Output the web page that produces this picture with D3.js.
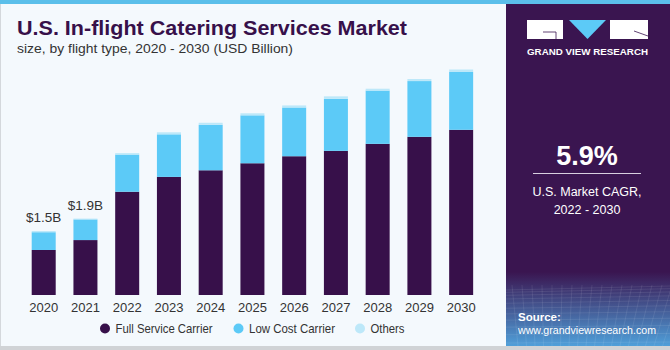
<!DOCTYPE html>
<html>
<head>
<meta charset="utf-8">
<script src="https://cdn.jsdelivr.net/npm/d3@7"></script>
<style>
  body { margin: 0; background: #fff; }
  svg { display: block; font-family: "Liberation Sans", Arial, sans-serif; }
</style>
</head>
<body>
<div id="chart"></div>
<script>
// data (USD Billion)
var years = ["2020", "2021", "2022", "2023", "2024", "2025", "2026", "2027", "2028", "2029", "2030"];
var fullService = [1.09, 1.33, 2.50, 2.86, 3.02, 3.19, 3.36, 3.49, 3.66, 3.83, 4.00];
var lowCost = [0.43, 0.50, 0.90, 1.03, 1.10, 1.16, 1.18, 1.26, 1.29, 1.35, 1.40];
var others = [0.03, 0.02, 0.035, 0.05, 0.05, 0.05, 0.05, 0.06, 0.045, 0.05, 0.06];
var seriesNames = ["Full Service Carrier", "Low Cost Carrier", "Others"];
var valueLabels = ["$1.5B", "$1.9B"];

var width = 670;
var height = 350;

var colors = ["#37104a", "#5ccaf7", "#bde8f9"];

var svg = d3.select("#chart")
    .append("svg")
    .attr("width", width)
    .attr("height", height);

// backgrounds
svg.append("rect").attr("x", 0).attr("y", 0).attr("width", width).attr("height", height).attr("fill", "#f4f9fd");
svg.append("rect").attr("x", 0).attr("y", 0).attr("width", width).attr("height", 4).attr("fill", "#5bbfea");
svg.append("rect").attr("x", 0).attr("y", 4).attr("width", 1).attr("height", 343).attr("fill", "#d4d8dc");
svg.append("rect").attr("x", 0).attr("y", 346).attr("width", width).attr("height", 4).attr("fill", "#d0d3d6");

// right panel
var defs = svg.append("defs");
var grad = defs.append("linearGradient").attr("id", "pgrad")
    .attr("x1", 0).attr("y1", 0).attr("x2", 0).attr("y2", 1);
grad.append("stop").attr("offset", "0").attr("stop-color", "#3a1550");
grad.append("stop").attr("offset", "1").attr("stop-color", "#4f9fd9");

var panel = svg.append("g");
panel.append("rect").attr("x", 506).attr("y", 4).attr("width", 164).attr("height", 342).attr("fill", "#3a1550");
panel.append("rect").attr("x", 506).attr("y", 272).attr("width", 164).attr("height", 74).attr("fill", "url(#pgrad)");

// faint grid in the panel bottom
var gridG = panel.append("g").attr("stroke", "#ffffff").attr("stroke-opacity", 0.12).attr("stroke-width", 0.7);
d3.range(0, 14).forEach(function (i) {
    var yy = 290 + i * i * 0.33 + i * 2;
    gridG.append("line").attr("x1", 506).attr("x2", 670).attr("y1", yy).attr("y2", yy - 4 + i * 0.3);
});
d3.range(0, 18).forEach(function (i) {
    var xx = 506 + i * 10;
    gridG.append("line").attr("x1", xx + 6).attr("x2", xx - (i - 8) * 1.5).attr("y1", 285).attr("y2", 346);
});

// logo
panel.append("rect").attr("x", 527).attr("y", 20).attr("width", 36).attr("height", 19).attr("fill", "#fff");
panel.append("path").attr("d", "M543,32 L556,32 L556,39").attr("fill", "none").attr("stroke", "#3a1550").attr("stroke-width", 0.8);
panel.append("path").attr("d", "M569,20 L606,20 L587.5,39 Z").attr("fill", "#5ccaf7");
panel.append("rect").attr("x", 610).attr("y", 20).attr("width", 38).attr("height", 19).attr("fill", "#fff");
panel.append("path").attr("d", "M634,31 L648,36").attr("fill", "none").attr("stroke", "#3a1550").attr("stroke-width", 0.8);
panel.append("text").attr("x", 587.5).attr("y", 55).attr("text-anchor", "middle")
    .attr("fill", "#fff").attr("font-size", 9).attr("font-weight", "bold")
    .attr("textLength", 121).attr("lengthAdjust", "spacingAndGlyphs")
    .text("GRAND VIEW RESEARCH");

// CAGR
panel.append("text").attr("x", 587).attr("y", 165).attr("text-anchor", "middle")
    .attr("fill", "#fff").attr("font-size", 27).attr("font-weight", "bold").text("5.9%");
panel.append("line").attr("x1", 533).attr("x2", 641).attr("y1", 173.5).attr("y2", 173.5)
    .attr("stroke", "#d8cfe0").attr("stroke-width", 1);
panel.append("text").attr("x", 587).attr("y", 196).attr("text-anchor", "middle")
    .attr("fill", "#fff").attr("font-size", 12.5).text("U.S. Market CAGR,");
panel.append("text").attr("x", 587).attr("y", 214).attr("text-anchor", "middle")
    .attr("fill", "#fff").attr("font-size", 12.5).text("2022 - 2030");

// source
panel.append("text").attr("x", 518).attr("y", 321).attr("fill", "#fff")
    .attr("font-size", 11.5).attr("font-weight", "bold").text("Source:");
panel.append("text").attr("x", 518).attr("y", 334).attr("fill", "#fff")
    .attr("font-size", 11.5).attr("textLength", 138).attr("lengthAdjust", "spacingAndGlyphs")
    .text("www.grandviewresearch.com");

// title
svg.append("text").attr("x", 17).attr("y", 35).attr("fill", "#37104a")
    .attr("font-size", 21).attr("font-weight", "bold")
    .attr("textLength", 390).attr("lengthAdjust", "spacingAndGlyphs")
    .text("U.S. In-flight Catering Services Market");
svg.append("text").attr("x", 17).attr("y", 53).attr("fill", "#333")
    .attr("font-size", 13.5)
    .attr("textLength", 276).attr("lengthAdjust", "spacingAndGlyphs")
    .text("size, by flight type, 2020 - 2030 (USD Billion)");

// scales
var x = d3.scaleBand()
    .domain(years)
    .range([23.35, 481.5])
    .paddingInner(0.425)
    .paddingOuter(0.2);

var y = d3.scaleLinear()
    .domain([0, 5])
    .range([295, 88.5]);

var table = years.map(function (yr, i) {
    return { year: yr, full: fullService[i], low: lowCost[i], oth: others[i] };
});

var stack = d3.stack().keys(["full", "low", "oth"]);
var layers = stack(table);

var layer = svg.selectAll(".layer")
    .data(layers)
    .enter().append("g")
    .attr("class", "layer")
    .attr("fill", function (d, i) { return colors[i]; });

layer.selectAll("rect")
    .data(function (d) { return d; })
    .enter().append("rect")
    .attr("x", function (d) { return x(d.data.year); })
    .attr("width", x.bandwidth())
    .attr("y", function (d) { return y(d[1]); })
    .attr("height", function (d) { return y(d[0]) - y(d[1]); });

// value labels on the first two bars
svg.selectAll(".vlabel")
    .data(valueLabels)
    .enter().append("text")
    .attr("class", "vlabel")
    .attr("x", function (d, i) { return x(years[i]) + x.bandwidth() / 2; })
    .attr("y", function (d, i) { return y(fullService[i] + lowCost[i] + others[i]) - 8.5; })
    .attr("text-anchor", "middle")
    .attr("fill", "#333")
    .attr("font-size", 13.5)
    .text(function (d) { return d; });

// x axis
var xAxis = svg.append("g")
    .attr("transform", "translate(0,295)")
    .call(d3.axisBottom(x).tickSize(0).tickPadding(8));
xAxis.select(".domain").remove();
xAxis.selectAll("text")
    .attr("fill", "#333")
    .attr("font-size", 13)
    .attr("font-family", "Liberation Sans, Arial, sans-serif");

// legend
var legendX = [105, 238.5, 360];
var legendLen = [97, 86, 34];
var legend = svg.selectAll(".legend")
    .data(seriesNames)
    .enter().append("g")
    .attr("class", "legend")
    .attr("transform", function (d, i) { return "translate(" + legendX[i] + ",328.5)"; });
legend.append("circle").attr("r", 5).attr("fill", function (d, i) { return colors[i]; });
legend.append("text").attr("x", 10.5).attr("y", 4.5)
    .attr("fill", "#333").attr("font-size", 13)
    .attr("textLength", function (d, i) { return legendLen[i]; })
    .attr("lengthAdjust", "spacingAndGlyphs")
    .text(function (d) { return d; });
</script>
</body>
</html>
